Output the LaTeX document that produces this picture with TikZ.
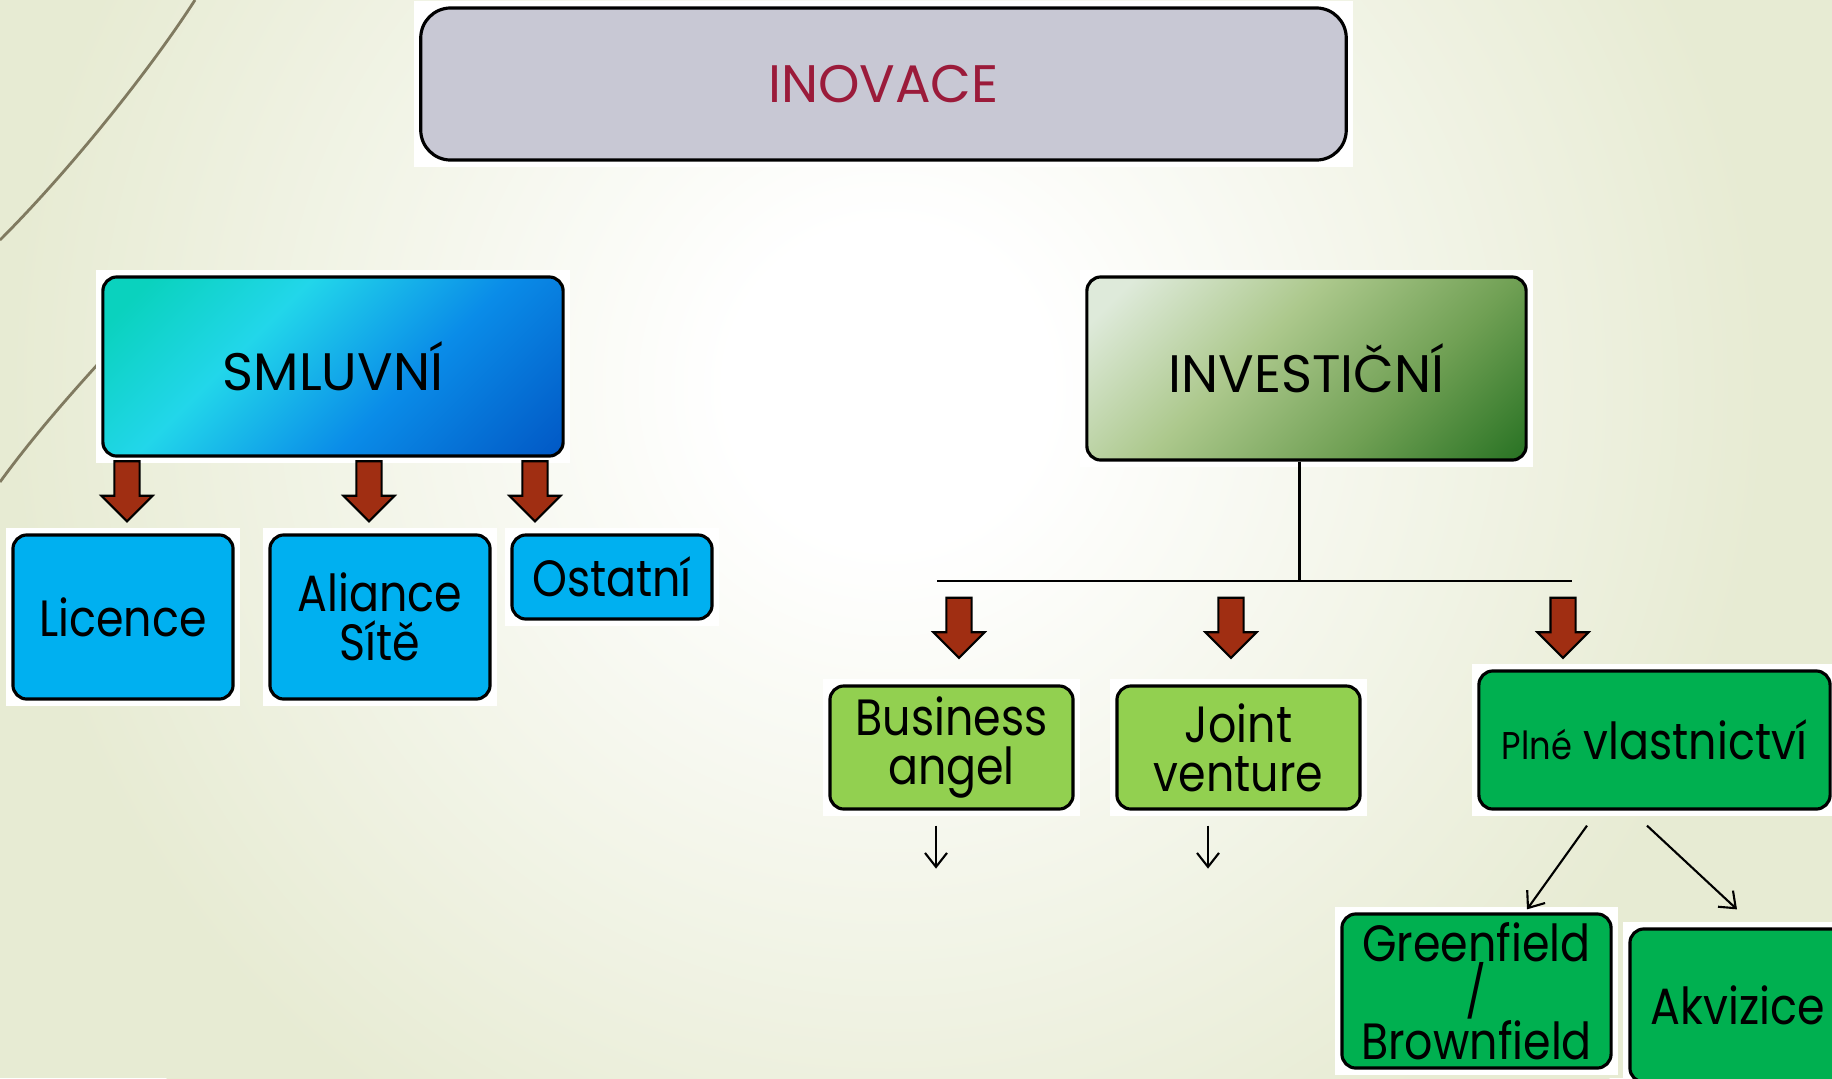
\documentclass[tikz,border=0pt]{standalone}
\usepackage{fontspec}
\setmainfont{Poppins}
\newfontfamily\narrowfont{Poppins}[FakeStretch=0.87]
\usepackage{xcolor}
\usetikzlibrary{arrows.meta,calc,shapes.arrows,backgrounds}

\definecolor{bgedge}{RGB}{231,235,211}
\definecolor{wispcol}{RGB}{128,122,96}
\definecolor{inovfill}{RGB}{200,200,212}
\definecolor{inovtext}{RGB}{155,27,58}
\definecolor{sm1}{RGB}{10,210,190}
\definecolor{sm2}{RGB}{34,214,234}
\definecolor{sm3}{RGB}{10,140,232}
\definecolor{sm4}{RGB}{0,78,190}
\definecolor{iv1}{RGB}{222,234,218}
\definecolor{iv2}{RGB}{172,200,140}
\definecolor{iv3}{RGB}{112,160,84}
\definecolor{iv4}{RGB}{24,104,24}
\definecolor{bluefill}{RGB}{0,176,240}
\definecolor{lightgreen}{RGB}{146,208,80}
\definecolor{darkgreen}{RGB}{0,176,80}
\definecolor{arrowred}{RGB}{160,46,18}

\pgfdeclarelayer{bg}
\pgfsetlayers{bg,background,main}

\pgfdeclareradialshading{bgglow}{\pgfpoint{0bp}{0bp}}{color(0bp)=(white); color(4bp)=(white); color(22bp)=(bgedge); color(50bp)=(bgedge)}
\pgfdeclarehorizontalshading{smshade}{100bp}{color(0bp)=(sm1); color(20bp)=(sm1); color(38bp)=(sm2); color(60bp)=(sm3); color(90bp)=(sm4); color(100bp)=(sm4)}
\pgfdeclarehorizontalshading{ivshade}{100bp}{color(0bp)=(iv1); color(20bp)=(iv1); color(42bp)=(iv2); color(64bp)=(iv3); color(90bp)=(iv4); color(100bp)=(iv4)}

\tikzset{
  box/.style={draw=black, line width=0.9pt, rounded corners=0.14cm, align=center, inner sep=0pt,
    text=black, font=\narrowfont\fontsize{14.5}{14}\selectfont},
  inovbox/.style={box, fill=inovfill, rounded corners=0.3cm, text=inovtext, font=\fontsize{15}{15}\selectfont},
  topbox/.style={box, shade, shading angle=-45, font=\fontsize{15}{15}\selectfont},
  bluebox/.style={box, fill=bluefill},
  lightgreenbox/.style={box, fill=lightgreen},
  greenbox/.style={box, fill=darkgreen},
  redarrow/.style={single arrow, draw=black, line width=0.6pt, fill=arrowred, shape border rotate=270,
    inner sep=0.115cm, minimum height=0.6cm, single arrow head extend=0.13cm},
  thinarrow/.style={-{Straight Barb[length=1.4mm,width=2.2mm]}, line width=0.6pt},
  wisp/.style={draw=wispcol, line width=0.8pt}
}

\begin{document}
\begin{tikzpicture}[x=0.01cm,y=-0.01cm]
  \useasboundingbox (0,0) rectangle (1832,1078);

  % page background
  \begin{pgfonlayer}{bg}
    \fill[bgedge] (0,0) rectangle (1832,1078);
    \shade[shading=bgglow] (888,386) circle (1000);
    \draw[wisp] (195,0) .. controls (150,70) and (70,170) .. (0,240);
    \draw[wisp] (140,318) .. controls (100,362) and (45,420) .. (0,482);
  \end{pgfonlayer}

  % boxes
  \node[inovbox, minimum width=9.25cm, minimum height=1.52cm] (inovace) at (883.5,84) {INOVACE};
  \node[topbox, shading=smshade, minimum width=4.6cm, minimum height=1.79cm] (smluvni) at (333,366.5) {SMLUVNÍ};
  \node[topbox, shading=ivshade, minimum width=4.39cm, minimum height=1.83cm] (investicni) at (1306.5,368.5) {INVESTIČNÍ};

  \node[bluebox, minimum width=2.2cm, minimum height=1.64cm] (licence) at (123,617) {Licence};
  \node[bluebox, minimum width=2.2cm, minimum height=1.64cm] (aliance) at (380,617) {Aliance\\Sítě};
  \node[bluebox, minimum width=2cm, minimum height=0.84cm] (ostatni) at (612,577) {Ostatní};

  \node[lightgreenbox, minimum width=2.43cm, minimum height=1.23cm] (business) at (951.5,747.5) {Business\\angel};
  \node[lightgreenbox, minimum width=2.43cm, minimum height=1.23cm] (joint) at (1238.5,747.5) {Joint\\venture};
  \node[greenbox, minimum width=3.51cm, minimum height=1.38cm] (plne) at (1654.5,740) {{\fontsize{11}{11}\selectfont Plné} vlastnictví};
  \node[greenbox, minimum width=2.69cm, minimum height=1.54cm] (greenfield) at (1476.5,991) {Greenfield\\/\\Brownfield};
  \node[greenbox, minimum width=2.15cm, minimum height=1.53cm] (akvizice) at (1737.5,1005.5) {Akvizice};

  % white backing of the boxes
  \begin{scope}[on background layer]
    \foreach \n in {inovace,smluvni,investicni,licence,aliance,ostatni,business,joint,plne,greenfield,akvizice}
      \fill[white] ($(\n.south west)+(-5,5)$) rectangle ($(\n.north east)+(5,-5)$);
  \end{scope}

  % red block arrows
  \node[redarrow] (arL) at (127,485) {};
  \node[redarrow] (arA) at (369,485) {};
  \node[redarrow] (arO) at (535,485) {};
  \node[redarrow] (arB) at (959,621.5) {};
  \node[redarrow] (arJ) at (1231,621.5) {};
  \node[redarrow] (arP) at (1563,621.5) {};

  % tree lines
  \coordinate (hl) at (937,581);
  \coordinate (hr) at (1572,581);
  \draw[line width=0.6pt] ($(investicni.south)+(-7,0)$) -- ($(investicni.south |- hl)+(-7,0)$);
  \draw[line width=0.6pt] (hl) -- (hr);

  % thin arrows
  \draw[thinarrow] ($(business.south)+(-15.5,15)$) -- ($(business.south)+(-15.5,58)$);
  \draw[thinarrow] ($(joint.south)+(-30.5,15)$) -- ($(joint.south)+(-30.5,58)$);
  \draw[thinarrow] ($(plne.south)+(-67.5,15)$) -- ($(greenfield.north)+(50.5,-3)$);
  \draw[thinarrow] ($(plne.south)+(-7.5,15)$) -- ($(akvizice.north)+(-0.5,-18)$);
\end{tikzpicture}
\end{document}
